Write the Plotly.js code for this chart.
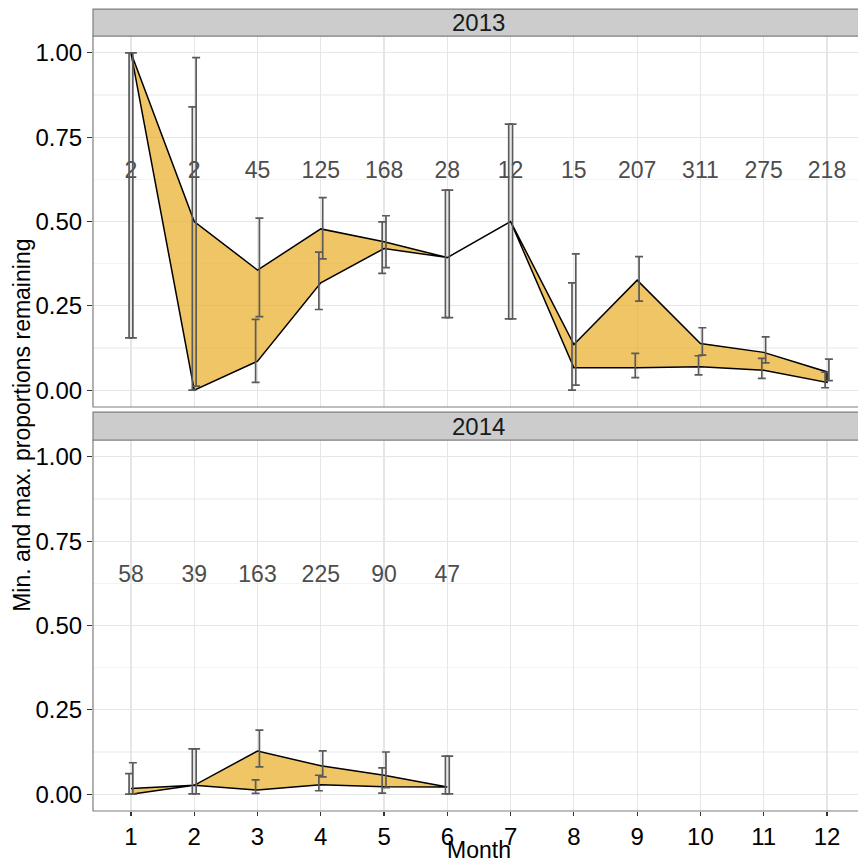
<!DOCTYPE html>
<html>
<head>
<meta charset="utf-8">
<script src="https://cdn.plot.ly/plotly-3.0.1.min.js"></script>
<style>
  html, body { margin: 0; padding: 0; background: #ffffff; }
  #chart { width: 858px; height: 863px; }
</style>
</head>
<body>
<div id="chart"></div>
<script>
// ---- 2013 ----
const months2013 = [1, 2, 3, 4, 5, 6, 7, 8, 9, 10, 11, 12];
const n2013 = [2, 2, 45, 125, 168, 28, 12, 15, 207, 311, 275, 218];
const max2013   = [1.000, 0.500, 0.356, 0.478, 0.440, 0.393, 0.500, 0.135, 0.326, 0.138, 0.112, 0.054];
const maxLo2013 = [0.155, 0.012, 0.218, 0.389, 0.363, 0.215, 0.211, 0.015, 0.264, 0.104, 0.081, 0.028];
const maxHi2013 = [1.000, 0.986, 0.510, 0.571, 0.517, 0.593, 0.789, 0.404, 0.396, 0.185, 0.158, 0.092];
const min2013   = [1.000, 0.000, 0.086, 0.318, 0.420, 0.393, 0.500, 0.066, 0.066, 0.069, 0.059, 0.023];
const minLo2013 = [0.155, 0.000, 0.023, 0.239, 0.346, 0.215, 0.211, 0.000, 0.037, 0.045, 0.035, 0.007];
const minHi2013 = [1.000, 0.840, 0.210, 0.409, 0.499, 0.593, 0.789, 0.318, 0.109, 0.102, 0.094, 0.053];

// ---- 2014 ----
const months2014 = [1, 2, 3, 4, 5, 6];
const n2014 = [58, 39, 163, 225, 90, 47];
const max2014   = [0.017, 0.026, 0.128, 0.084, 0.056, 0.021];
const maxLo2014 = [0.000, 0.001, 0.081, 0.051, 0.019, 0.001];
const maxHi2014 = [0.093, 0.134, 0.190, 0.128, 0.125, 0.113];
const min2014   = [0.000, 0.026, 0.012, 0.028, 0.022, 0.021];
const minLo2014 = [0.000, 0.001, 0.002, 0.010, 0.003, 0.001];
const minHi2014 = [0.061, 0.134, 0.042, 0.056, 0.078, 0.113];

// ---- axis labels ----
const monthTicks = [1, 2, 3, 4, 5, 6, 7, 8, 9, 10, 11, 12];
const monthTickText = ['1', '2', '3', '4', '5', '6', '7', '8', '9', '10', '11', '12'];
const yTicks = [0, 0.25, 0.5, 0.75, 1];
const yTickText = ['0.00', '0.25', '0.50', '0.75', '1.00'];
const yMinor = [0.125, 0.375, 0.625, 0.875];
const panelNames = ['2013', '2014'];

// ---- styling ----
const FONT = 'Liberation Sans, Arial, Helvetica, sans-serif';
const LABEL_Y = 0.645;      // height of the sample-size labels
const DODGE = 0.03;         // horizontal offset between the two error bars
const FILL = 'rgba(234,172,36,0.7)';
const ERR_COLOR = '#5a5a5a';

function ribbon(months, hi, lo, xa, ya) {
  return {
    type: 'scatter', mode: 'lines', xaxis: xa, yaxis: ya,
    x: months.concat(months.slice().reverse()),
    y: hi.concat(lo.slice().reverse()),
    fill: 'toself', fillcolor: FILL,
    line: { color: '#000000', width: 1.5 },
    hoverinfo: 'skip', showlegend: false
  };
}

function errBars(months, val, lo, hi, shift, xa, ya) {
  return {
    type: 'scatter', mode: 'markers', xaxis: xa, yaxis: ya,
    x: months.map(m => m + shift),
    y: val,
    marker: { color: 'rgba(0,0,0,0)', size: 1 },
    error_y: {
      type: 'data', symmetric: false,
      array: hi.map((h, i) => h - val[i]),
      arrayminus: val.map((v, i) => v - lo[i]),
      color: ERR_COLOR, thickness: 1.7, width: 4
    },
    hoverinfo: 'skip', showlegend: false
  };
}

function nLabels(months, n, xa, ya) {
  return {
    type: 'scatter', mode: 'text', xaxis: xa, yaxis: ya,
    x: months, y: months.map(() => LABEL_Y),
    text: n.map(String), textposition: 'middle center',
    textfont: { family: FONT, size: 23, color: '#4d4d4d' },
    hoverinfo: 'skip', showlegend: false
  };
}

const data = [
  ribbon(months2013, max2013, min2013, 'x', 'y'),
  nLabels(months2013, n2013, 'x', 'y'),
  errBars(months2013, min2013, minLo2013, minHi2013, -DODGE, 'x', 'y'),
  errBars(months2013, max2013, maxLo2013, maxHi2013, DODGE, 'x', 'y'),

  ribbon(months2014, max2014, min2014, 'x2', 'y2'),
  nLabels(months2014, n2014, 'x2', 'y2'),
  errBars(months2014, min2014, minLo2014, minHi2014, -DODGE, 'x2', 'y2'),
  errBars(months2014, max2014, maxLo2014, maxHi2014, DODGE, 'x2', 'y2')
];

// panel geometry (paper units)
const TOP = [0.5213, 1.0];
const BOT = [0.0, 0.4787];
const STRIP_TOP = [1.0, 1.0348];
const STRIP_BOT = [0.4787, 0.5148];

const xBase = {
  range: [0.4, 12.49], tickmode: 'array', tickvals: monthTicks, ticktext: monthTickText,
  showgrid: true, gridcolor: '#e6e6e6', gridwidth: 1.2,
  zeroline: false, showline: false, fixedrange: true
};
const yBase = {
  range: [-0.05, 1.05], tickmode: 'array', tickvals: yTicks, ticktext: yTickText,
  showgrid: true, gridcolor: '#e6e6e6', gridwidth: 1.2,
  minor: { tickmode: 'array', tickvals: yMinor, showgrid: true, gridcolor: '#f3f3f3', gridwidth: 1.2, ticks: '' },
  ticks: 'outside', ticklen: 5, tickwidth: 1.2, tickcolor: '#333333',
  tickfont: { family: FONT, size: 24, color: '#000000' },
  zeroline: false, showline: false, fixedrange: true
};

const layout = {
  width: 858, height: 863,
  margin: { l: 93, r: 0, t: 36, b: 52 },
  paper_bgcolor: '#ffffff', plot_bgcolor: '#ffffff',
  showlegend: false,
  font: { family: FONT, color: '#000000' },
  xaxis: Object.assign({}, xBase, { domain: [0, 1], anchor: 'y', showticklabels: false, ticks: '' }),
  xaxis2: Object.assign({}, xBase, {
    domain: [0, 1], anchor: 'y2', showticklabels: true,
    ticks: 'outside', ticklen: 4, tickwidth: 1.2, tickcolor: '#333333',
    tickfont: { family: FONT, size: 24, color: '#000000' }
  }),
  yaxis: Object.assign({}, yBase, { domain: TOP, anchor: 'x' }),
  yaxis2: Object.assign({}, yBase, { domain: BOT, anchor: 'x2' }),
  shapes: [
    // panel borders
    { type: 'rect', xref: 'paper', yref: 'paper', x0: 0, x1: 1.02, y0: TOP[0], y1: TOP[1],
      line: { color: '#7f7f7f', width: 1.2 }, fillcolor: 'rgba(0,0,0,0)', layer: 'above' },
    { type: 'rect', xref: 'paper', yref: 'paper', x0: 0, x1: 1.02, y0: BOT[0], y1: BOT[1],
      line: { color: '#7f7f7f', width: 1.2 }, fillcolor: 'rgba(0,0,0,0)', layer: 'above' },
    // facet strips
    { type: 'rect', xref: 'paper', yref: 'paper', x0: 0, x1: 1.02, y0: STRIP_TOP[0], y1: STRIP_TOP[1],
      line: { color: '#7f7f7f', width: 1.2 }, fillcolor: '#cccccc', layer: 'above' },
    { type: 'rect', xref: 'paper', yref: 'paper', x0: 0, x1: 1.02, y0: STRIP_BOT[0], y1: STRIP_BOT[1],
      line: { color: '#7f7f7f', width: 1.2 }, fillcolor: '#cccccc', layer: 'above' }
  ],
  annotations: [
    { text: panelNames[0], xref: 'paper', yref: 'paper', x: 0.504, y: (STRIP_TOP[0] + STRIP_TOP[1]) / 2,
      xanchor: 'center', yanchor: 'middle', showarrow: false,
      font: { family: FONT, size: 24, color: '#1a1a1a' } },
    { text: panelNames[1], xref: 'paper', yref: 'paper', x: 0.504, y: (STRIP_BOT[0] + STRIP_BOT[1]) / 2,
      xanchor: 'center', yanchor: 'middle', showarrow: false,
      font: { family: FONT, size: 24, color: '#1a1a1a' } },
    { text: 'Month', xref: 'paper', yref: 'paper', x: 0.504, y: 0, yshift: -39,
      xanchor: 'center', yanchor: 'middle', showarrow: false,
      font: { family: FONT, size: 23, color: '#000000' } },
    { text: 'Min. and max. proportions remaining', xref: 'paper', yref: 'paper',
      x: 0, xshift: -71, y: 0.497, textangle: -90,
      xanchor: 'center', yanchor: 'middle', showarrow: false,
      font: { family: FONT, size: 23, color: '#000000' } }
  ]
};

Plotly.newPlot('chart', data, layout, { displayModeBar: false, staticPlot: true });
</script>
</body>
</html>
